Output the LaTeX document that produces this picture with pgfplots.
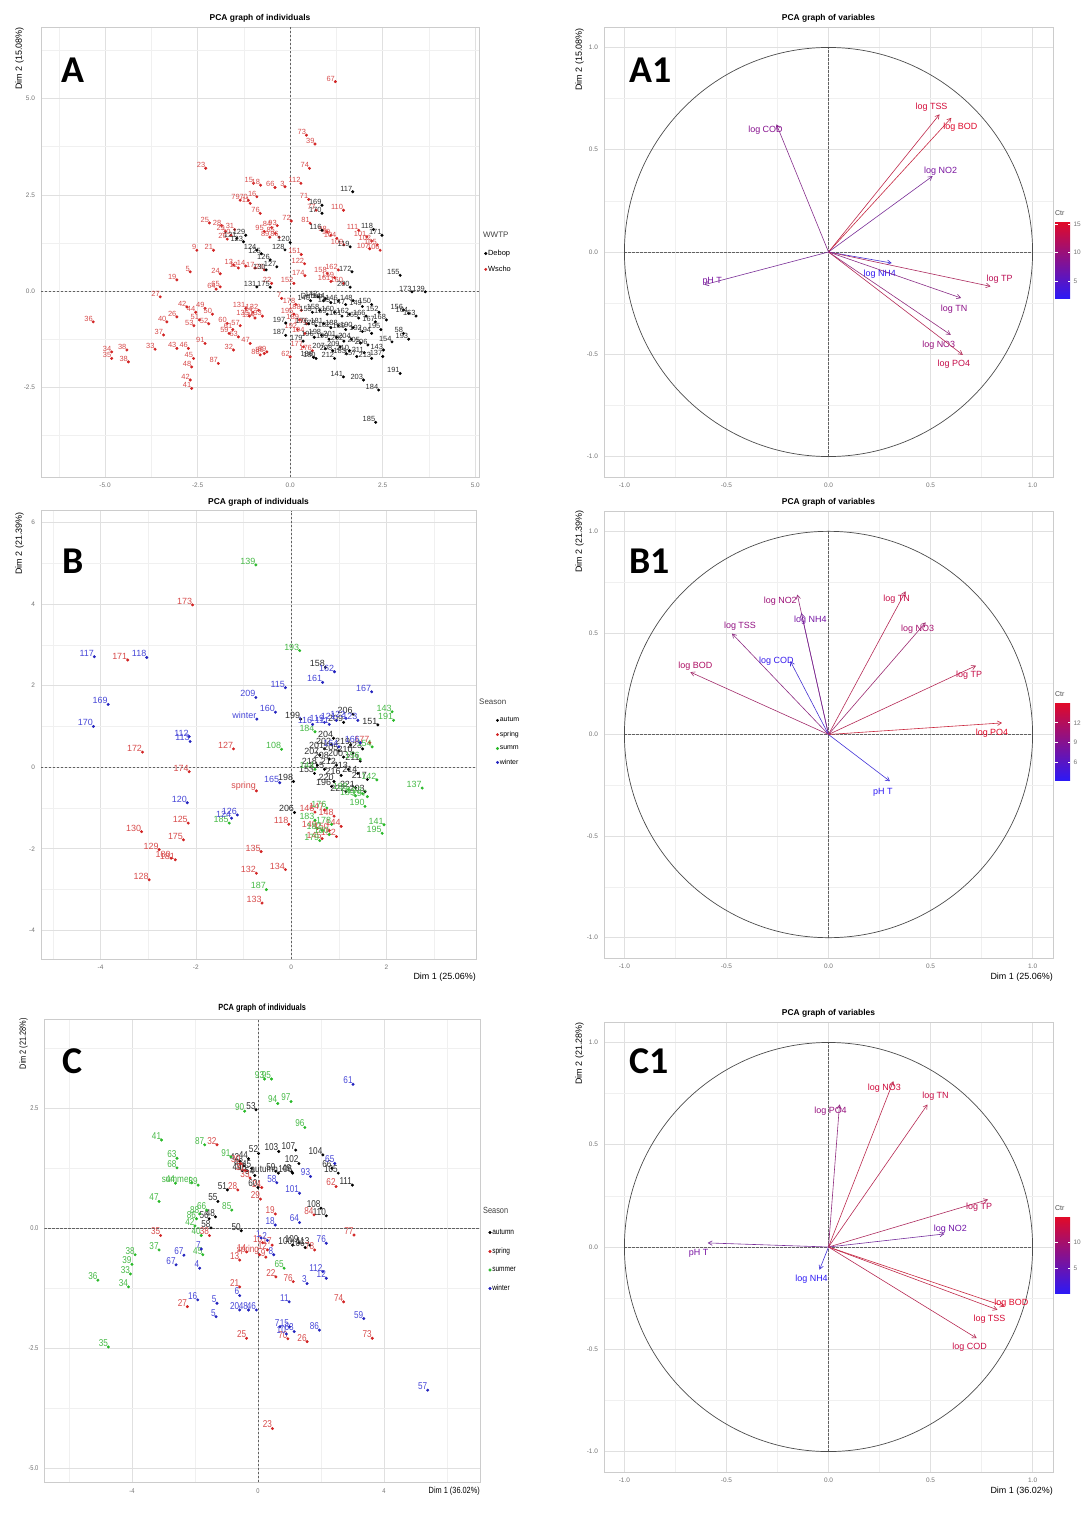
\documentclass[border=0pt]{standalone}
\usepackage{fontspec}
\setmainfont{Liberation Sans}
\newfontfamily\panelfont{Carlito}
\newfontfamily\narrowfont{Liberation Sans}[FakeStretch=0.82]
\usepackage{pgfplots}
\pgfplotsset{compat=1.18}
\usetikzlibrary{arrows.meta}
\definecolor{cLow}{RGB}{45,25,245}
\definecolor{cHigh}{RGB}{225,10,40}
\definecolor{cRedPt}{RGB}{210,35,35}
\definecolor{cRedLab}{RGB}{215,75,75}
\definecolor{cGrnPt}{RGB}{40,185,40}
\definecolor{cGrnLab}{RGB}{70,185,70}
\definecolor{cBluPt}{RGB}{35,35,190}
\definecolor{cBluLab}{RGB}{70,70,215}
\definecolor{cBlkLab}{RGB}{45,45,45}
\newcommand\labA{\fontsize{7.5}{8.5}\selectfont}
\newcommand\labB{\fontsize{9}{10}\selectfont}
\newcommand\labC{\narrowfont\fontsize{10}{11}\selectfont}
\newcommand\vlab{\fontsize{9}{10}\selectfont}
\newcommand\axl{\fontsize{9}{10}\selectfont}
\newcommand\pnl{\panelfont\bfseries\fontsize{38}{40}\selectfont}
\tikzset{vl/.style={pos=1, font=\vlab, inner sep=0pt, anchor=center}}
\pgfplotsset{
  pbase/.style={scale only axis, anchor=north west,
    axis line style={draw=black!20, line width=0.5bp},
    grid=both,
    major grid style={draw=black!12, line width=0.6bp},
    minor grid style={draw=black!6, line width=0.5bp},
    major tick length=0pt, minor tick length=0pt,
    ticklabel style={font=\fontsize{6.5}{7}\selectfont, text=black!55},
    xticklabel style={yshift=-2.5bp},
    yticklabel style={xshift=-2.5bp},
    title style={font=\bfseries\fontsize{8.5}{10}\selectfont, at={(0.5,1)}, anchor=south, yshift=-2.5bp, inner sep=1bp},
    legend cell align=left,
    legend image code/.code={\draw[##1] plot coordinates {(0bp,0bp)};},
  },
  zl/.style={forget plot, draw=black!62, dash pattern=on 2.2bp off 1.8bp, line width=0.7bp},
  pts/.style n args={3}{forget plot, only marks, mark=*, mark size=1.3bp, color=#1,
    nodes near coords, point meta=explicit symbolic,
    every node near coord/.append style={text=#2, font=#3, anchor=south east, inner sep=0.3bp}},
  arr/.style={forget plot, line width=0.6bp, -{Straight Barb[length=4bp,width=4.5bp]}},
  circ/.style={pbase, width=449bp, xmin=-1.1, xmax=1.1, ymin=-1.1, ymax=1.1,
    xtick={-1,-0.5,0,0.5,1}, xticklabels={-1.0,-0.5,0.0,0.5,1.0},
    ytick={-1,-0.5,0,0.5,1}, yticklabels={-1.0,-0.5,0.0,0.5,1.0},
    minor xtick={-0.75,-0.25,0.25,0.75}, minor ytick={-0.75,-0.25,0.25,0.75},
    title={PCA graph of variables}},
  cbax/.style n args={3}{scale only axis, anchor=north west, width=15bp,
    xmin=0, xmax=1, ymin=#1, ymax=#2, axis on top,
    axis line style={draw=none}, xtick=\empty, ytick={#3}, yticklabels={#3},
    yticklabel pos=right, major tick length=2.5bp, tick align=inside,
    tick style={draw=white, line width=0.6bp},
    ticklabel style={font=\fontsize{6.5}{7}\selectfont, text=black!55},
    title={Ctr}, title style={font=\fontsize{7}{8}\selectfont, text=black!70, at={(0,1)}, anchor=south west, inner sep=0pt}},
}
\begin{document}
\begin{tikzpicture}
\useasboundingbox (0bp,0bp) rectangle (1088bp,-1517bp);

% ================= A =================
\begin{axis}[pbase, name=axA, at={(41bp,-27bp)}, width=438bp, height=450bp,
  xmin=-6.73, xmax=5.1, ymin=-4.83, ymax=6.86,
  xtick={-5,-2.5,0,2.5,5}, xticklabels={-5.0,-2.5,0.0,2.5,5.0},
  ytick={-2.5,0,2.5,5}, yticklabels={-2.5,0.0,2.5,5.0},
  minor xtick={-6.25,-3.75,-1.25,1.25,3.75}, minor ytick={-3.75,-1.25,1.25,3.75,6.25},
  title={PCA graph of individuals},
  legend style={at={(1.012,0.507)}, anchor=north west, draw=none, fill=none, font=\fontsize{7.5}{8}\selectfont, row sep=7bp, inner sep=0pt, nodes={inner sep=1bp}}]
\addlegendimage{only marks, mark=*, mark size=1.3bp, black}\addlegendentry{Debop}
\addlegendimage{only marks, mark=*, mark size=1.3bp, cRedPt}\addlegendentry{Wscho}
\addplot[zl] coordinates {(0,-4.83) (0,6.86)};
\addplot[zl] coordinates {(-6.73,0) (5.1,0)};
\addplot[pts={cRedPt}{cRedLab}{\labA}] table[meta=lab, row sep=\\] {
x y lab \\
1.22 5.44 67 \\ 0.44 4.05 73 \\ 0.67 3.82 39 \\ -2.28 3.19 23 \\ 0.52 3.19 74 \\
0.29 2.80 112 \\ 0.50 2.38 71 \\ -0.99 2.80 15 \\ -0.80 2.75 18 \\ -0.41 2.69 66 \\
-0.14 2.71 3 \\ -1.35 2.36 79 \\ -1.13 2.36 70 \\ -0.90 2.45 16 \\ -1.08 2.28 11 \\
-0.81 2.02 76 \\ -2.18 1.77 25 \\ 0.03 1.82 72 \\ 0.70 2.10 77 \\ 1.44 2.10 110 \\
0.54 1.76 81 \\ 1.85 1.58 111 \\ 2.07 1.41 101 \\ 2.20 1.30 102 \\ 2.35 1.20 105 \\
2.43 1.06 106 \\ 2.15 1.10 107 \\ 1.00 1.54 98 \\ 1.10 1.45 99 \\ 1.26 1.37 104 \\
1.45 1.20 109 \\ -2.52 1.06 9 \\ -2.07 1.06 21 \\ -2.70 0.50 5 \\ -3.06 0.29 19 \\
-1.89 0.45 24 \\ -1.89 0.11 65 \\ -2.00 0.05 64 \\ -1.53 0.68 13 \\ -1.40 0.60 12 \\
-1.20 0.65 14 \\ -0.95 0.60 17 \\ -0.70 0.55 20 \\ -1.85 1.70 28 \\ -1.75 1.55 29 \\
-1.60 1.45 30 \\ -1.50 1.60 31 \\ -1.70 1.35 26 \\ -0.50 1.65 84 \\ -0.40 1.50 85 \\
-0.30 1.40 86 \\ -0.55 1.40 89 \\ -0.35 1.70 93 \\ -0.70 1.55 95 \\ -3.51 -0.15 27 \\
-5.32 -0.80 36 \\ -4.82 -1.58 34 \\ -4.41 -1.53 38 \\ -4.82 -1.75 35 \\ -4.37 -1.84 38 \\
-3.65 -1.51 33 \\ -3.42 -1.14 37 \\ -3.33 -0.80 40 \\ -3.06 -0.67 26 \\ -2.79 -0.41 42 \\
-2.55 -0.55 44 \\ -2.30 -0.45 49 \\ -2.10 -0.60 50 \\ -2.45 -0.75 51 \\ -2.20 -0.85 52 \\
-2.60 -0.90 53 \\ -3.06 -1.49 43 \\ -2.75 -1.49 46 \\ -2.30 -1.36 91 \\ -2.61 -1.75 45 \\
-2.66 -1.97 48 \\ -2.70 -2.31 42 \\ -2.66 -2.53 41 \\ -1.94 -1.88 87 \\ -1.53 -1.53 32 \\
-1.08 -1.36 47 \\ -0.81 -1.66 88 \\ -0.63 -1.58 89 \\ -0.70 -1.62 86 \\ -1.70 -0.84 60 \\
-1.55 -1.00 61 \\ -1.40 -1.19 63 \\ -1.65 -1.10 59 \\ -1.35 -0.90 57 \\ -1.20 -0.45 131 \\
-1.00 -0.55 14 \\ -0.85 -0.50 132 \\ -0.75 -0.65 133 \\ -0.95 -0.70 134 \\ -1.10 -0.65 135 \\
-0.23 -0.19 7 \\ 0.00 -1.71 62 \\ 0.36 -1.45 177 \\ 0.60 -1.55 176 \\ 0.15 -0.35 178 \\
0.30 -0.50 188 \\ 0.25 -0.75 189 \\ 0.45 -0.85 190 \\ 0.20 -1.00 192 \\ 0.40 -1.10 194 \\
0.10 -0.60 195 \\ -0.50 0.20 22 \\ 0.39 0.71 122 \\ 0.30 0.95 151 \\ 0.40 0.40 174 \\
0.10 0.20 152 \\ 1.00 0.46 158 \\ 1.20 0.35 159 \\ 1.44 0.20 160 \\ 1.10 0.25 161 \\
1.30 0.55 162 \\
};
\addplot[pts={black}{cBlkLab}{\labA}] table[meta=lab, row sep=\\] {
x y lab \\
1.69 2.58 117 \\ 0.86 2.23 169 \\ 0.86 2.02 170 \\ 2.25 1.60 118 \\ 2.48 1.45 171 \\
0.86 1.58 116 \\ 0.00 1.26 120 \\ -0.78 0.97 125 \\ -0.90 0.11 131 \\ -0.54 0.10 175 \\
2.97 0.41 155 \\ 3.29 -0.02 173 \\ 3.65 -0.02 139 \\ 1.67 0.50 172 \\ 1.62 0.10 200 \\
1.62 1.15 119 \\ 3.06 -0.49 156 \\ 3.20 -0.58 164 \\ 3.40 -0.65 163 \\ 3.06 -1.10 58 \\
3.20 -1.25 193 \\ 2.75 -1.32 154 \\ 2.52 -1.53 143 \\ 2.50 -1.70 137 \\ 2.97 -2.14 191 \\
1.44 -2.23 141 \\ 1.98 -2.31 203 \\ 2.39 -2.57 184 \\ 2.31 -3.41 185 \\ -0.12 -0.83 197 \\
-0.12 -1.15 187 \\ 0.63 -1.72 186 \\ 0.70 -1.75 180 \\ 1.52 -1.63 183 \\ 1.80 -1.70 157 \\
0.35 -1.30 179 \\ -1.44 1.37 121 \\ -1.26 1.28 123 \\ -0.90 1.06 124 \\ -0.54 0.81 126 \\
-0.36 0.63 127 \\ -0.14 1.07 128 \\ -1.20 1.45 129 \\ -0.65 0.55 130 \\ 0.90 -0.25 Debop \\
0.55 -0.25 140 \\ 0.75 -0.15 142 \\ 0.95 -0.20 144 \\ 1.10 -0.30 145 \\ 1.30 -0.25 146 \\
1.50 -0.35 147 \\ 1.70 -0.25 148 \\ 1.95 -0.40 149 \\ 2.20 -0.35 150 \\ 2.40 -0.55 152 \\
0.60 -0.55 153 \\ 0.80 -0.50 158 \\ 1.00 -0.60 159 \\ 1.20 -0.55 160 \\ 1.40 -0.65 161 \\
1.60 -0.60 162 \\ 1.85 -0.70 165 \\ 2.05 -0.65 166 \\ 2.30 -0.80 167 \\ 2.60 -0.75 168 \\
0.50 -0.85 176 \\ 0.70 -0.90 178 \\ 0.90 -0.85 181 \\ 1.10 -0.95 182 \\ 1.30 -0.90 188 \\
1.50 -1.00 189 \\ 1.70 -0.95 190 \\ 1.95 -1.05 192 \\ 2.20 -1.10 194 \\ 2.45 -1.00 195 \\
0.65 -1.20 196 \\ 0.85 -1.15 198 \\ 1.05 -1.25 199 \\ 1.25 -1.20 201 \\ 1.45 -1.30 202 \\
1.65 -1.25 204 \\ 1.90 -1.35 205 \\ 2.10 -1.40 206 \\ 0.95 -1.50 207 \\ 1.15 -1.55 208 \\
1.35 -1.45 209 \\ 1.60 -1.55 210 \\ 2.00 -1.60 211 \\ 1.20 -1.75 212 \\ 2.20 -1.75 213 \\
};
\end{axis}

% ================= A1 =================
\begin{axis}[circ, name=axA1, at={(604bp,-27bp)}, height=450bp]
\addplot[zl] coordinates {(-1,0) (1,0)};
\addplot[zl] coordinates {(0,-1) (0,1)};
\draw[black!70, line width=0.7bp] (axis cs:0,0) circle [radius=1];
\addplot[arr, draw=cHigh!92!cLow!75!gray] coordinates {(0,0) (0.544,0.673)} node[vl, text=cHigh!92!cLow, xshift=-8bp, yshift=7bp] {log TSS};
\addplot[arr, draw=cHigh!98!cLow!75!gray] coordinates {(0,0) (0.602,0.656)} node[vl, text=cHigh!98!cLow, xshift=9bp, yshift=-9bp] {log BOD};
\addplot[arr, draw=cHigh!50!cLow!75!gray] coordinates {(0,0) (-0.255,0.624)} node[vl, text=cHigh!50!cLow, xshift=-11bp, yshift=-6bp] {log COD};
\addplot[arr, draw=cHigh!42!cLow!75!gray] coordinates {(0,0) (0.510,0.371)} node[vl, text=cHigh!42!cLow, xshift=8bp, yshift=5bp] {log NO2};
\addplot[arr, draw=cHigh!3!cLow!75!gray] coordinates {(0,0) (0.31,-0.054)} node[vl, text=cHigh!3!cLow, xshift=-12bp, yshift=-11bp] {log NH4};
\addplot[arr, draw=cHigh!79!cLow!75!gray] coordinates {(0,0) (0.794,-0.168)} node[vl, text=cHigh!79!cLow, xshift=9bp, yshift=7bp] {log TP};
\addplot[arr, draw=cHigh!53!cLow!75!gray] coordinates {(0,0) (0.65,-0.225)} node[vl, text=cHigh!53!cLow, xshift=-7bp, yshift=-11bp] {log TN};
\addplot[arr, draw=cHigh!59!cLow!75!gray] coordinates {(0,0) (0.599,-0.405)} node[vl, text=cHigh!59!cLow, xshift=-12bp, yshift=-10bp] {log NO3};
\addplot[arr, draw=cHigh!84!cLow!75!gray] coordinates {(0,0) (0.658,-0.503)} node[vl, text=cHigh!84!cLow, xshift=-9bp, yshift=-9bp] {log PO4};
\addplot[arr, draw=cHigh!42!cLow!75!gray] coordinates {(0,0) (-0.609,-0.16)} node[vl, text=cHigh!42!cLow, xshift=8bp, yshift=3bp] {pH T};
\end{axis}
\begin{axis}[cbax={2}{15.35}{5,10,15}, at={(1055bp,-222bp)}, height=76bp]
\path[bottom color=cLow, top color=cHigh] (axis cs:0,2) rectangle (axis cs:1,15.35);
\end{axis}

% ================= B =================
\begin{axis}[pbase, name=axB, at={(41bp,-510.7bp)}, width=435bp, height=448.6bp,
  xmin=-5.25, xmax=3.88, ymin=-4.71, ymax=6.29,
  xtick={-4,-2,0,2}, xticklabels={-4,-2,0,2},
  ytick={-4,-2,0,2,4,6}, yticklabels={-4,-2,0,2,4,6},
  minor xtick={-5,-3,-1,1,3}, minor ytick={-3,-1,1,3,5},
  title={PCA graph of individuals},
  legend style={at={(1.046,0.542)}, anchor=north west, draw=none, fill=none, font=\fontsize{7}{8}\selectfont, row sep=6bp, inner sep=0pt, nodes={inner sep=1bp}}]
\addlegendimage{only marks, mark=*, mark size=1.3bp, black}\addlegendentry{autum}
\addlegendimage{only marks, mark=*, mark size=1.3bp, cRedPt}\addlegendentry{spring}
\addlegendimage{only marks, mark=*, mark size=1.3bp, cGrnPt}\addlegendentry{summ}
\addlegendimage{only marks, mark=*, mark size=1.3bp, cBluPt}\addlegendentry{winter}
\addplot[zl] coordinates {(0,-4.71) (0,6.29)};
\addplot[zl] coordinates {(-5.25,0) (3.88,0)};
\addplot[pts={black}{cBlkLab}{\labB}] table[meta=lab, row sep=\\] {
x y lab \\
0.72 2.45 158 \\ 0.20 1.18 199 \\ 1.82 1.04 151 \\ 0.89 0.71 204 \\ 0.49 -0.15 153 \\
0.05 -0.35 198 \\ 0.85 -0.47 196 \\ 1.55 -0.60 203 \\ 0.07 -1.11 206 \\ 0.70 0.45 201 \\
0.85 0.55 202 \\ 1.00 0.40 205 \\ 0.60 0.30 207 \\ 0.80 0.20 208 \\ 1.10 0.25 200 \\
1.30 0.35 210 \\ 1.45 0.15 211 \\ 0.95 0.05 212 \\ 1.20 -0.05 213 \\ 1.40 -0.15 214 \\
0.70 -0.05 215 \\ 1.05 -0.20 216 \\ 1.60 -0.30 217 \\ 0.55 0.05 218 \\ 1.25 0.55 219 \\
0.90 -0.35 220 \\ 1.35 -0.50 221 \\ 1.15 -0.60 222 \\ 1.50 0.45 223 \\ 1.30 1.30 206 \\
1.10 1.10 209 \\
};
\addplot[pts={cRedPt}{cRedLab}{\labB}] table[meta=lab, row sep=\\] {
x y lab \\
-2.07 3.98 173 \\ -3.43 2.63 171 \\ -3.12 0.37 172 \\ -1.21 0.45 127 \\ -2.14 -0.11 174 \\
-0.73 -0.58 spring \\ -2.16 -1.37 125 \\ -3.14 -1.58 130 \\ -2.26 -1.78 175 \\ -2.77 -2.02 129 \\
-2.43 -2.27 181 \\ -2.52 -2.23 180 \\ -2.98 -2.76 128 \\ -0.63 -2.07 135 \\ -0.12 -2.51 134 \\
-0.73 -2.60 132 \\ -0.61 -3.33 133 \\ 0.50 -1.10 146 \\ 0.70 -1.05 147 \\ 0.90 -1.20 148 \\
0.55 -1.50 149 \\ 0.80 -1.55 150 \\ 0.95 -1.70 152 \\ 0.65 -1.75 145 \\ 1.05 -1.45 144 \\
-0.05 -1.40 118 \\ 1.65 0.60 177 \\
};
\addplot[pts={cGrnPt}{cGrnLab}{\labB}] table[meta=lab, row sep=\\] {
x y lab \\
-0.74 4.96 139 \\ 0.18 2.86 193 \\ 2.12 1.36 143 \\ 2.15 1.15 191 \\ -0.20 0.44 108 \\
1.80 -0.31 142 \\ 2.75 -0.51 137 \\ 1.55 -0.96 190 \\ 1.95 -1.41 141 \\ 1.91 -1.62 195 \\
-1.30 -1.37 185 \\ -0.52 -3.00 187 \\ 0.50 0.87 184 \\ 1.20 -0.55 188 \\ 1.35 -0.70 189 \\
1.50 -0.65 192 \\ 1.60 -0.72 197 \\ 1.45 0.20 156 \\ 1.70 0.50 154 \\ 0.50 -0.05 144 \\
0.50 -1.30 183 \\ 0.65 -1.55 182 \\ 0.60 -1.80 179 \\ 0.80 -1.65 180 \\ 0.85 -1.40 178 \\
0.75 -1.00 176 \\
};
\addplot[pts={cBluPt}{cBluLab}{\labB}] table[meta=lab, row sep=\\] {
x y lab \\
-4.13 2.71 117 \\ -3.03 2.69 118 \\ -3.84 1.54 169 \\ -4.15 1.00 170 \\ -2.14 0.75 112 \\
-2.12 0.63 113 \\ -0.74 1.71 209 \\ -0.12 1.95 115 \\ -0.33 1.35 160 \\ -0.72 1.18 winter \\
0.91 2.34 162 \\ 0.66 2.08 161 \\ 1.69 1.85 167 \\ 0.45 1.05 116 \\ 0.70 1.10 119 \\
0.95 1.15 121 \\ 1.15 1.20 122 \\ 1.40 1.15 123 \\ 0.80 1.05 111 \\ 1.00 0.50 164 \\
1.45 0.60 166 \\ -2.18 -0.87 120 \\ -1.13 -1.17 126 \\ -1.25 -1.25 124 \\ -0.24 -0.38 165 \\
};
\end{axis}

% ================= B1 =================
\begin{axis}[circ, name=axB1, at={(604bp,-511bp)}, height=447bp]
\addplot[zl] coordinates {(-1,0) (1,0)};
\addplot[zl] coordinates {(0,-1) (0,1)};
\draw[black!70, line width=0.7bp] (axis cs:0,0) circle [radius=1];
\addplot[arr, draw=cHigh!61!cLow!75!gray] coordinates {(0,0) (-0.153,0.689)} node[vl, text=cHigh!61!cLow, xshift=-17bp, yshift=-7bp] {log NO2};
\addplot[arr, draw=cHigh!40!cLow!75!gray] coordinates {(0,0) (-0.133,0.598)} node[vl, text=cHigh!40!cLow, xshift=9bp, yshift=-7bp] {log NH4};
\addplot[arr, draw=cHigh!56!cLow!75!gray] coordinates {(0,0) (-0.473,0.497)} node[vl, text=cHigh!56!cLow, xshift=8bp, yshift=7bp] {log TSS};
\addplot[arr, draw=cHigh!4!cLow!75!gray] coordinates {(0,0) (-0.187,0.361)} node[vl, text=cHigh!4!cLow, xshift=-14bp, yshift=0bp] {log COD};
\addplot[arr, draw=cHigh!71!cLow!75!gray] coordinates {(0,0) (-0.677,0.307)} node[vl, text=cHigh!71!cLow, xshift=5bp, yshift=6bp] {log BOD};
\addplot[arr, draw=cHigh!85!cLow!75!gray] coordinates {(0,0) (0.378,0.705)} node[vl, text=cHigh!85!cLow, xshift=-9bp, yshift=-8bp] {log TN};
\addplot[arr, draw=cHigh!67!cLow!75!gray] coordinates {(0,0) (0.476,0.552)} node[vl, text=cHigh!67!cLow, xshift=-8bp, yshift=-7bp] {log NO3};
\addplot[arr, draw=cHigh!85!cLow!75!gray] coordinates {(0,0) (0.723,0.339)} node[vl, text=cHigh!85!cLow, xshift=-7bp, yshift=-10bp] {log TP};
\addplot[arr, draw=cHigh!100!cLow!75!gray] coordinates {(0,0) (0.85,0.057)} node[vl, text=cHigh!100!cLow, xshift=-10bp, yshift=-10bp] {log PO4};
\addplot[arr, draw=cHigh!0!cLow!75!gray] coordinates {(0,0) (0.301,-0.23)} node[vl, text=cHigh!0!cLow, xshift=-7bp, yshift=-11bp] {pH T};
\end{axis}
\begin{axis}[cbax={3.3}{15}{6,9,12}, at={(1055bp,-703bp)}, height=77bp]
\path[bottom color=cLow, top color=cHigh] (axis cs:0,3.3) rectangle (axis cs:1,15);
\end{axis}

% ================= C =================
\begin{axis}[pbase, name=axC, at={(44.4bp,-1019bp)}, width=435.6bp, height=463.3bp,
  xmin=-6.78, xmax=7.05, ymin=-5.29, ymax=4.36,
  xtick={-4,0,4}, xticklabels={-4,0,4},
  ytick={-5,-2.5,0,2.5}, yticklabels={-5.0,-2.5,0.0,2.5},
  minor xtick={-6,-2,2,6}, minor ytick={-3.75,-1.25,1.25,3.75},
  ticklabel style={font=\narrowfont\fontsize{7}{8}\selectfont},
  title={PCA graph of individuals},
  title style={font=\narrowfont\bfseries\fontsize{9}{10}\selectfont, yshift=2bp},
  legend style={at={(1.0195,0.549)}, anchor=north west, draw=none, fill=none, font=\narrowfont\fontsize{8}{9}\selectfont, row sep=10bp, inner sep=0pt, nodes={inner sep=1bp}}]
\addlegendimage{only marks, mark=*, mark size=1.3bp, black}\addlegendentry{autumn}
\addlegendimage{only marks, mark=*, mark size=1.3bp, cRedPt}\addlegendentry{spring}
\addlegendimage{only marks, mark=*, mark size=1.3bp, cGrnPt}\addlegendentry{summer}
\addlegendimage{only marks, mark=*, mark size=1.3bp, cBluPt}\addlegendentry{winter}
\addplot[zl] coordinates {(0,-5.29) (0,4.36)};
\addplot[zl] coordinates {(-6.78,0) (7.05,0)};
\addplot[pts={black}{cBlkLab}{\labC}] table[meta=lab, row sep=\\] {
x y lab \\
-0.06 2.47 53 \\ 0.02 1.56 52 \\ 0.66 1.60 103 \\ 1.20 1.63 107 \\ 2.06 1.53 104 \\
-0.58 1.40 42 \\ -0.45 1.30 43 \\ -0.35 1.20 46 \\ -0.20 1.25 45 \\ -0.30 1.45 44 \\
-0.50 1.20 49 \\ -0.10 1.10 54 \\ 0.57 1.19 59 \\ 1.07 1.18 49 \\ 0.65 1.15 autumn \\
3.00 0.90 111 \\ 2.35 1.25 66 \\ 2.55 1.15 105 \\ 1.30 1.35 102 \\ 1.10 1.15 106 \\
-0.97 0.80 51 \\ -1.27 0.56 55 \\ -1.35 0.24 48 \\ -1.49 0.01 58 \\ -0.53 -0.05 50 \\
2.00 0.42 108 \\ 2.17 0.26 110 \\ 0.00 0.85 60 \\ 1.10 -0.35 100 \\ 1.30 -0.30 109 \\
1.50 -0.40 106 \\ 1.65 -0.35 113 \\ -1.55 0.20 56 \\
};
\addplot[pts={cRedPt}{cRedLab}{\labC}] table[meta=lab, row sep=\\] {
x y lab \\
-1.30 1.74 32 \\ -0.64 0.80 28 \\ -0.55 1.35 30 \\ -0.40 1.20 31 \\ -0.25 1.05 33 \\
0.08 0.61 29 \\ 0.12 0.85 24 \\ 2.48 0.87 62 \\ 1.78 0.28 84 \\ 0.55 0.30 19 \\
3.05 -0.14 77 \\ -3.09 -0.15 35 \\ -1.54 -0.15 38 \\ -0.36 -0.49 14 \\ -0.58 -0.66 13 \\
0.15 -0.30 10 \\ 0.30 -0.45 12 \\ 0.45 -0.35 17 \\ 0.25 -0.60 9 \\ 0.05 -0.55 spring \\
1.80 -0.45 78 \\ 0.57 -1.01 22 \\ 1.12 -1.11 76 \\ -0.58 -1.22 21 \\ -2.24 -1.63 27 \\
2.72 -1.53 74 \\ 3.63 -2.29 73 \\ 1.56 -2.36 26 \\ 0.95 -2.30 70 \\ -0.36 -2.29 25 \\
0.46 -4.17 23 \\
};
\addplot[pts={cGrnPt}{cGrnLab}{\labC}] table[meta=lab, row sep=\\] {
x y lab \\
0.21 3.11 93 \\ 0.43 3.11 95 \\ 0.63 2.60 94 \\ 1.05 2.64 97 \\ -0.42 2.44 90 \\
1.49 2.10 96 \\ -3.06 1.84 41 \\ -1.69 1.74 87 \\ -0.86 1.49 91 \\ -2.57 1.46 63 \\
-2.57 1.26 68 \\ -2.62 0.94 44 \\ -3.14 0.56 47 \\ -2.10 0.95 summer \\ -1.90 0.90 89 \\
-1.63 0.38 66 \\ -0.83 0.38 85 \\ -1.85 0.30 88 \\ -1.95 0.20 86 \\ -3.14 -0.45 37 \\
-1.80 -0.15 40 \\ -1.75 -0.55 45 \\ 0.83 -0.83 65 \\ -5.08 -1.08 36 \\ -4.11 -1.22 34 \\
-4.05 -0.95 33 \\ -4.00 -0.75 39 \\ -3.90 -0.55 38 \\ -4.75 -2.47 35 \\ -2.00 0.05 42 \\
};
\addplot[pts={cBluPt}{cBluLab}{\labC}] table[meta=lab, row sep=\\] {
x y lab \\
3.02 3.00 61 \\ 2.44 1.35 65 \\ 1.67 1.08 93 \\ 0.60 0.95 58 \\ 1.32 0.73 101 \\
1.32 0.12 64 \\ 0.55 0.07 18 \\ 0.10 -0.20 1 \\ 0.30 -0.25 2 \\ 0.50 -0.55 8 \\
2.17 -0.31 76 \\ 2.06 -0.90 112 \\ 2.17 -1.04 12 \\ 1.56 -1.15 3 \\ -1.80 -0.43 7 \\
-2.35 -0.56 67 \\ -2.60 -0.76 67 \\ -1.85 -0.83 4 \\ -0.58 -1.40 6 \\ -1.91 -1.49 16 \\
-1.30 -1.56 5 \\ -1.33 -1.84 5 \\ -0.58 -1.70 20 \\ -0.30 -1.70 48 \\ -0.05 -1.70 46 \\
0.99 -1.53 11 \\ 3.36 -1.88 59 \\ 1.95 -2.12 86 \\ 0.70 -2.05 7 \\ 0.90 -2.20 10 \\
1.00 -2.05 15 \\ 1.15 -2.15 63 \\ 5.39 -3.37 57 \\
};
\end{axis}

% ================= C1 =================
\begin{axis}[circ, name=axC1, at={(604bp,-1022bp)}, height=450bp]
\addplot[zl] coordinates {(-1,0) (1,0)};
\addplot[zl] coordinates {(0,-1) (0,1)};
\draw[black!70, line width=0.7bp] (axis cs:0,0) circle [radius=1];
\addplot[arr, draw=cHigh!58!cLow!75!gray] coordinates {(0,0) (0.054,0.697)} node[vl, text=cHigh!58!cLow, xshift=-9bp, yshift=-7bp] {log PO4};
\addplot[arr, draw=cHigh!90!cLow!75!gray] coordinates {(0,0) (0.318,0.811)} node[vl, text=cHigh!90!cLow, xshift=-9bp, yshift=-7bp] {log NO3};
\addplot[arr, draw=cHigh!86!cLow!75!gray] coordinates {(0,0) (0.485,0.697)} node[vl, text=cHigh!86!cLow, xshift=8bp, yshift=8bp] {log TN};
\addplot[arr, draw=cHigh!79!cLow!75!gray] coordinates {(0,0) (0.782,0.232)} node[vl, text=cHigh!79!cLow, xshift=-9bp, yshift=-8bp] {log TP};
\addplot[arr, draw=cHigh!38!cLow!75!gray] coordinates {(0,0) (0.568,0.064)} node[vl, text=cHigh!38!cLow, xshift=6bp, yshift=5bp] {log NO2};
\addplot[arr, draw=cHigh!41!cLow!75!gray] coordinates {(0,0) (-0.592,0.02)} node[vl, text=cHigh!41!cLow, xshift=-9bp, yshift=-10bp] {pH T};
\addplot[arr, draw=cHigh!0!cLow!75!gray] coordinates {(0,0) (-0.044,-0.111)} node[vl, text=cHigh!0!cLow, xshift=-8bp, yshift=-9bp] {log NH4};
\addplot[arr, draw=cHigh!99!cLow!75!gray] coordinates {(0,0) (0.862,-0.29)} node[vl, text=cHigh!99!cLow, xshift=7bp, yshift=3bp] {log BOD};
\addplot[arr, draw=cHigh!93!cLow!75!gray] coordinates {(0,0) (0.828,-0.307)} node[vl, text=cHigh!93!cLow, xshift=-8bp, yshift=-9bp] {log TSS};
\addplot[arr, draw=cHigh!86!cLow!75!gray] coordinates {(0,0) (0.726,-0.446)} node[vl, text=cHigh!86!cLow, xshift=-7bp, yshift=-9bp] {log COD};
\end{axis}
\begin{axis}[cbax={0.2}{14.8}{5,10}, at={(1055bp,-1217bp)}, height=76bp]
\path[bottom color=cLow, top color=cHigh] (axis cs:0,0.2) rectangle (axis cs:1,14.8);
\end{axis}

% ---------- text around the panels ----------
\node[anchor=base west, font=\pnl, inner sep=0pt] at (61bp,-82bp) {A};
\node[anchor=base west, font=\pnl, inner sep=0pt] at (629bp,-82bp) {A1};
\node[anchor=base west, font=\pnl, inner sep=0pt] at (62bp,-573bp) {B};
\node[anchor=base west, font=\pnl, inner sep=0pt] at (629bp,-573bp) {B1};
\node[anchor=base west, font=\pnl, inner sep=0pt] at (62bp,-1073bp) {C};
\node[anchor=base west, font=\pnl, inner sep=0pt] at (629bp,-1073bp) {C1};

\node[rotate=90, anchor=south east, font=\axl, inner sep=0pt] at (24bp,-27bp) {Dim 2 (15.08\%)};
\node[rotate=90, anchor=south east, font=\axl, inner sep=0pt] at (584bp,-28bp) {Dim 2 (15.08\%)};
\node[rotate=90, anchor=south east, font=\axl, inner sep=0pt] at (24bp,-512bp) {Dim 2 (21.39\%)};
\node[rotate=90, anchor=south east, font=\axl, inner sep=0pt] at (584bp,-510bp) {Dim 2 (21.39\%)};
\node[rotate=90, anchor=south east, font=\narrowfont\axl, inner sep=0pt] at (28bp,-1018bp) {Dim 2 (21.28\%)};
\node[rotate=90, anchor=south east, font=\axl, inner sep=0pt] at (584bp,-1022bp) {Dim 2 (21.28\%)};

\node[anchor=north east, font=\axl, inner sep=0pt] at (476bp,-973bp) {Dim 1 (25.06\%)};
\node[anchor=north east, font=\axl, inner sep=0pt] at (1053bp,-973bp) {Dim 1 (25.06\%)};
\node[anchor=north east, font=\narrowfont\axl, inner sep=0pt] at (480bp,-1487bp) {Dim 1 (36.02\%)};
\node[anchor=north east, font=\axl, inner sep=0pt] at (1053bp,-1487bp) {Dim 1 (36.02\%)};

\node[anchor=west, font=\fontsize{8}{9}\selectfont, text=black!75, inner sep=0pt] at (483bp,-235bp) {WWTP};
\node[anchor=west, font=\fontsize{8}{9}\selectfont, text=black!75, inner sep=0pt] at (479bp,-702bp) {Season};
\node[anchor=west, font=\narrowfont\fontsize{9}{10}\selectfont, text=black!75, inner sep=0pt] at (483bp,-1210bp) {Season};
\end{tikzpicture}
\end{document}
